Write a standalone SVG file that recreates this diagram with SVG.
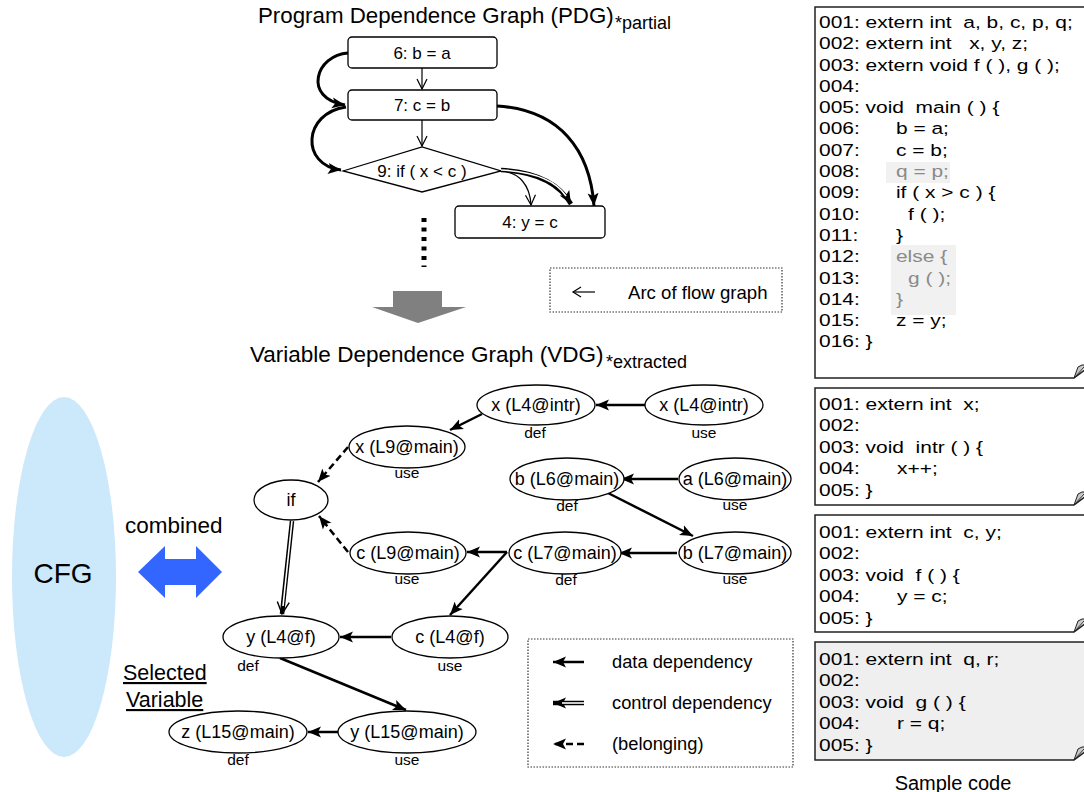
<svg xmlns="http://www.w3.org/2000/svg" width="1084" height="792" viewBox="0 0 1084 792">
<defs>
<style>
text{font-family:"Liberation Sans",Arial,Helvetica,sans-serif;fill:#000;white-space:pre}
.pbox{fill:#fff;stroke:#000;stroke-width:1.3}
.ell{fill:#fff;stroke:#000;stroke-width:1.3}
.nl{font-size:18px;text-anchor:middle}
.pl{font-size:17px;text-anchor:middle}
.sub{font-size:15.5px;text-anchor:middle}
.code{font-size:16.5px}
.gray{fill:#8a8a8a}
.thick{fill:none;stroke:#000;stroke-width:3}
.data{fill:none;stroke:#000;stroke-width:2.5}
.dash{fill:none;stroke:#000;stroke-width:2.5;stroke-dasharray:7 4}
.thin{fill:none;stroke:#000;stroke-width:1.2}
.dbl{fill:none;stroke:#000;stroke-width:4.5}
.dbli{fill:none;stroke:#fff;stroke-width:1.6}
.dotted{fill:none;stroke:#333;stroke-width:1.2;stroke-dasharray:1.5 1.5}
.cbox{fill:#fff;stroke:#222;stroke-width:1.5}
.fold{fill:#c8c8c8;stroke:#222;stroke-width:1}
.leg{font-size:18.3px}
</style>
<marker id="fa" markerUnits="userSpaceOnUse" markerWidth="14" markerHeight="12" refX="13" refY="6" orient="auto"><path d="M0,0.5 L13,6 L0,11.5 L3,6 Z" fill="#000"/></marker>
<marker id="va" markerUnits="userSpaceOnUse" markerWidth="12" markerHeight="12" refX="11" refY="6" orient="auto"><path d="M1,1 L11,6 L1,11" fill="none" stroke="#000" stroke-width="1.2"/></marker>
<marker id="da" markerUnits="userSpaceOnUse" markerWidth="14" markerHeight="14" refX="13" refY="7" orient="auto"><path d="M1,1 L13,7 L1,13" fill="none" stroke="#000" stroke-width="1.4"/></marker>
</defs>

<!-- Titles -->
<text x="258" y="23" font-size="22.3">Program Dependence Graph (PDG)</text>
<text x="615" y="29" font-size="18">*partial</text>
<text x="250" y="362" font-size="22.5">Variable Dependence Graph (VDG)</text>
<text x="606" y="368" font-size="18">*extracted</text>

<!-- PDG nodes -->
<g id="pdg6"><rect class="pbox" x="348" y="37" width="149" height="31" rx="4"/><text class="pl" x="422" y="59">6: b = a</text></g>
<g id="pdg7"><rect class="pbox" x="348" y="90" width="149" height="30" rx="4"/><text class="pl" x="422" y="111">7: c = b</text></g>
<g id="pdg9"><polygon class="pbox" points="343,171 422,147 501,171 422,192"/><text class="pl" x="422" y="177">9: if ( x &lt; c )</text></g>
<g id="pdg4"><rect class="pbox" x="455" y="206" width="150" height="32" rx="4"/><text class="pl" x="530" y="228">4: y = c</text></g>

<!-- PDG connectors -->
<g id="pdg-edges">
<line class="thin" x1="422" y1="68" x2="422" y2="89" marker-end="url(#va)"/>
<line class="thin" x1="422" y1="120" x2="422" y2="146" marker-end="url(#va)"/>
<path class="thick" d="M348,53 C316,55 302,98 345,105" marker-end="url(#fa)"/>
<path class="thick" d="M346,107 C303,113 300,165 341,170" marker-end="url(#fa)"/>
<path class="thick" d="M497,106 C560,110 590,150 594,206" marker-end="url(#fa)"/>
<path class="thin" d="M500,171 C520,172 530,186 531,205" marker-end="url(#va)"/>
<path class="dbl" d="M501,170 C540,172 560,185 571,204" marker-end="url(#fa)"/>
<path class="dbli" d="M501,170 C540,172 558,184 566,196"/>
<line x1="424" y1="218" x2="424" y2="267" stroke="#000" stroke-width="5" stroke-dasharray="4 5.5"/>
</g>

<!-- big gray arrow -->
<polygon points="393,291 442,291 442,307 466,307 418,323 372,307 393,307" fill="#808080"/>

<!-- Legend 1 -->
<g id="legend1">
<rect class="dotted" x="550" y="268" width="232" height="44"/>
<line class="thin" x1="595" y1="292" x2="573" y2="292"/>
<path d="M581,287 L573,292 L581,297" fill="none" stroke="#000" stroke-width="1.2"/>
<text x="628" y="299" font-size="18.6">Arc of flow graph</text>
</g>

<!-- Code boxes -->
<g id="code-main">
<path class="cbox" d="M815,7 H1090 V366 L1074,378 H815 Z"/>
<path class="fold" d="M1074,378 L1078,367 Q1082,364 1086,365 Z"/>
<rect x="886" y="162" width="64" height="21" fill="#f1f1f1"/>
<rect x="891" y="245" width="65" height="70" fill="#f1f1f1"/>
<g class="code" transform="translate(819,0) scale(1.27,1)">
<text class="code" x="0" y="28">001: extern int  a, b, c, p, q;</text>
<text class="code" x="0" y="49.3">002: extern int   x, y, z;</text>
<text class="code" x="0" y="70.6">003: extern void f ( ), g ( );</text>
<text class="code" x="0" y="91.9">004:</text>
<text class="code" x="0" y="113.2">005: void  main ( ) {</text>
<text class="code" x="0" y="134.5">006:</text><text class="code" x="60.6" y="134.5">b = a;</text>
<text class="code" x="0" y="155.8">007:</text><text class="code" x="60.6" y="155.8">c = b;</text>
<text class="code" x="0" y="177.1">008:</text><text class="code gray" x="60.6" y="177.1">q = p;</text>
<text class="code" x="0" y="198.4">009:</text><text class="code" x="60.6" y="198.4">if ( x &gt; c ) {</text>
<text class="code" x="0" y="219.7">010:</text><text class="code" x="70.1" y="219.7">f ( );</text>
<text class="code" x="0" y="241">011:</text><text class="code" x="60.6" y="241">}</text>
<text class="code" x="0" y="262.3">012:</text><text class="code gray" x="60.6" y="262.3">else {</text>
<text class="code" x="0" y="283.6">013:</text><text class="code gray" x="70.1" y="283.6">g ( );</text>
<text class="code" x="0" y="304.9">014:</text><text class="code gray" x="60.6" y="304.9">}</text>
<text class="code" x="0" y="326.2">015:</text><text class="code" x="60.6" y="326.2">z = y;</text>
<text class="code" x="0" y="347.5">016: }</text>
</g>
</g>

<g id="code-intr">
<path class="cbox" d="M815,388 H1090 V493 L1074,505 H815 Z"/>
<path class="fold" d="M1074,505 L1078,494 Q1082,491 1086,492 Z"/>
<g transform="translate(819,0) scale(1.27,1)">
<text class="code" x="0" y="410">001: extern int  x;</text>
<text class="code" x="0" y="431.5">002:</text>
<text class="code" x="0" y="453">003: void  intr ( ) {</text>
<text class="code" x="0" y="474.5">004:</text><text class="code" x="61.4" y="474.5">x++;</text>
<text class="code" x="0" y="496">005: }</text>
</g>
</g>

<g id="code-f">
<path class="cbox" d="M815,515 H1090 V620 L1074,632 H815 Z"/>
<path class="fold" d="M1074,632 L1078,621 Q1082,618 1086,619 Z"/>
<g transform="translate(819,0) scale(1.27,1)">
<text class="code" x="0" y="538">001: extern int  c, y;</text>
<text class="code" x="0" y="559.5">002:</text>
<text class="code" x="0" y="581">003: void  f ( ) {</text>
<text class="code" x="0" y="602.5">004:</text><text class="code" x="61.4" y="602.5">y = c;</text>
<text class="code" x="0" y="624">005: }</text>
</g>
</g>

<g id="code-g">
<path class="cbox" d="M815,642 H1090 V748 L1074,760 H815 Z" style="fill:#efefef"/>
<path class="fold" d="M1074,760 L1078,749 Q1082,746 1086,747 Z"/>
<g transform="translate(819,0) scale(1.27,1)">
<text class="code" x="0" y="665">001: extern int  q, r;</text>
<text class="code" x="0" y="686.5">002:</text>
<text class="code" x="0" y="708">003: void  g ( ) {</text>
<text class="code" x="0" y="729.5">004:</text><text class="code" x="61.4" y="729.5">r = q;</text>
<text class="code" x="0" y="751">005: }</text>
</g>
</g>
<text x="953" y="790" font-size="20" text-anchor="middle">Sample code</text>

<!-- CFG and combined -->
<g id="cfg">
<ellipse cx="64" cy="577" rx="52" ry="180" fill="#cce8fb"/>
<text x="63" y="583" font-size="28" text-anchor="middle">CFG</text>
</g>
<text x="125" y="533" font-size="22.5">combined</text>
<polygon points="138,572 165,546 165,559 196,559 196,546 222,572 196,598 196,585 165,585 165,598" fill="#3366ff"/>
<text x="123" y="680" font-size="21.5" text-decoration="underline">Selected</text>
<text x="126" y="707" font-size="21.5" text-decoration="underline">Variable</text>

<!-- VDG connectors -->
<g id="vdg-edges">
<line class="data" x1="645" y1="405" x2="596" y2="405" marker-end="url(#fa)"/>
<line class="data" x1="482" y1="414" x2="450" y2="430" marker-end="url(#fa)"/>
<line class="dash" x1="348" y1="447" x2="318" y2="482" marker-end="url(#fa)"/>
<line class="dash" x1="348" y1="552" x2="319" y2="516" marker-end="url(#fa)"/>
<line class="data" x1="678" y1="479" x2="621" y2="479" marker-end="url(#fa)"/>
<line class="data" x1="608" y1="493" x2="693" y2="536" marker-end="url(#fa)"/>
<line class="data" x1="677" y1="553" x2="619" y2="553" marker-end="url(#fa)"/>
<line class="data" x1="507" y1="552" x2="467" y2="552" marker-end="url(#fa)"/>
<line class="data" x1="507" y1="552" x2="450" y2="615" marker-end="url(#fa)"/>
<line class="dbl" x1="292" y1="521" x2="282" y2="614" marker-end="url(#da)"/>
<line class="dbli" x1="292" y1="521" x2="283" y2="606"/>
<line class="data" x1="391" y1="637" x2="340" y2="637" marker-end="url(#fa)"/>
<line class="data" x1="280" y1="658" x2="406" y2="710" marker-end="url(#fa)"/>
<line class="data" x1="338" y1="732" x2="308" y2="732" marker-end="url(#fa)"/>
</g>

<!-- VDG nodes -->
<g id="x-l4-intr-def"><ellipse class="ell" cx="536" cy="405" rx="59" ry="20"/><text class="nl" x="536" y="411">x (L4@intr)</text><text class="sub" x="535" y="438">def</text></g>
<g id="x-l4-intr-use"><ellipse class="ell" cx="704" cy="405" rx="59" ry="20"/><text class="nl" x="704" y="411">x (L4@intr)</text><text class="sub" x="704" y="438">use</text></g>
<g id="x-l9-main"><ellipse class="ell" cx="407" cy="447" rx="58" ry="21"/><text class="nl" x="407" y="453">x (L9@main)</text><text class="sub" x="407" y="478">use</text></g>
<g id="if"><ellipse class="ell" cx="291" cy="500" rx="37" ry="20"/><text class="nl" x="291" y="506">if</text></g>
<g id="b-l6-main"><ellipse class="ell" cx="567" cy="479" rx="57" ry="21"/><text class="nl" x="567" y="485">b (L6@main)</text><text class="sub" x="567" y="511">def</text></g>
<g id="a-l6-main"><ellipse class="ell" cx="735" cy="479" rx="56" ry="21"/><text class="nl" x="735" y="485">a (L6@main)</text><text class="sub" x="735" y="510">use</text></g>
<g id="c-l9-main"><ellipse class="ell" cx="408" cy="553" rx="58" ry="21"/><text class="nl" x="408" y="559">c (L9@main)</text><text class="sub" x="407" y="584">use</text></g>
<g id="c-l7-main"><ellipse class="ell" cx="565" cy="553" rx="56" ry="21"/><text class="nl" x="565" y="559">c (L7@main)</text><text class="sub" x="566" y="585">def</text></g>
<g id="b-l7-main"><ellipse class="ell" cx="735" cy="553" rx="56" ry="21"/><text class="nl" x="735" y="559">b (L7@main)</text><text class="sub" x="735" y="584">use</text></g>
<g id="y-l4-f"><ellipse class="ell" cx="281" cy="637" rx="58" ry="21"/><text class="nl" x="281" y="643">y (L4@f)</text><text class="sub" x="248" y="671">def</text></g>
<g id="c-l4-f"><ellipse class="ell" cx="450" cy="637" rx="58" ry="21"/><text class="nl" x="450" y="643">c (L4@f)</text><text class="sub" x="450" y="671">use</text></g>
<g id="z-l15-main"><ellipse class="ell" cx="238" cy="732" rx="69" ry="21"/><text class="nl" x="238" y="738">z (L15@main)</text><text class="sub" x="238" y="765">def</text></g>
<g id="y-l15-main"><ellipse class="ell" cx="407" cy="732" rx="69" ry="21"/><text class="nl" x="407" y="738">y (L15@main)</text><text class="sub" x="407" y="765">use</text></g>

<!-- Legend 2 -->
<g id="legend2">
<rect class="dotted" x="528" y="639" width="265" height="128"/>
<line class="data" x1="584" y1="662" x2="553" y2="662" marker-end="url(#fa)"/>
<text class="leg" x="612" y="668">data dependency</text>
<line class="dbl" x1="584" y1="703" x2="553" y2="703" marker-end="url(#fa)"/>
<line class="dbli" x1="584" y1="703" x2="562" y2="703"/>
<text class="leg" x="612" y="709">control dependency</text>
<line class="dash" x1="584" y1="744" x2="553" y2="744" marker-end="url(#fa)"/>
<text class="leg" x="612" y="750">(belonging)</text>
</g>
</svg>
